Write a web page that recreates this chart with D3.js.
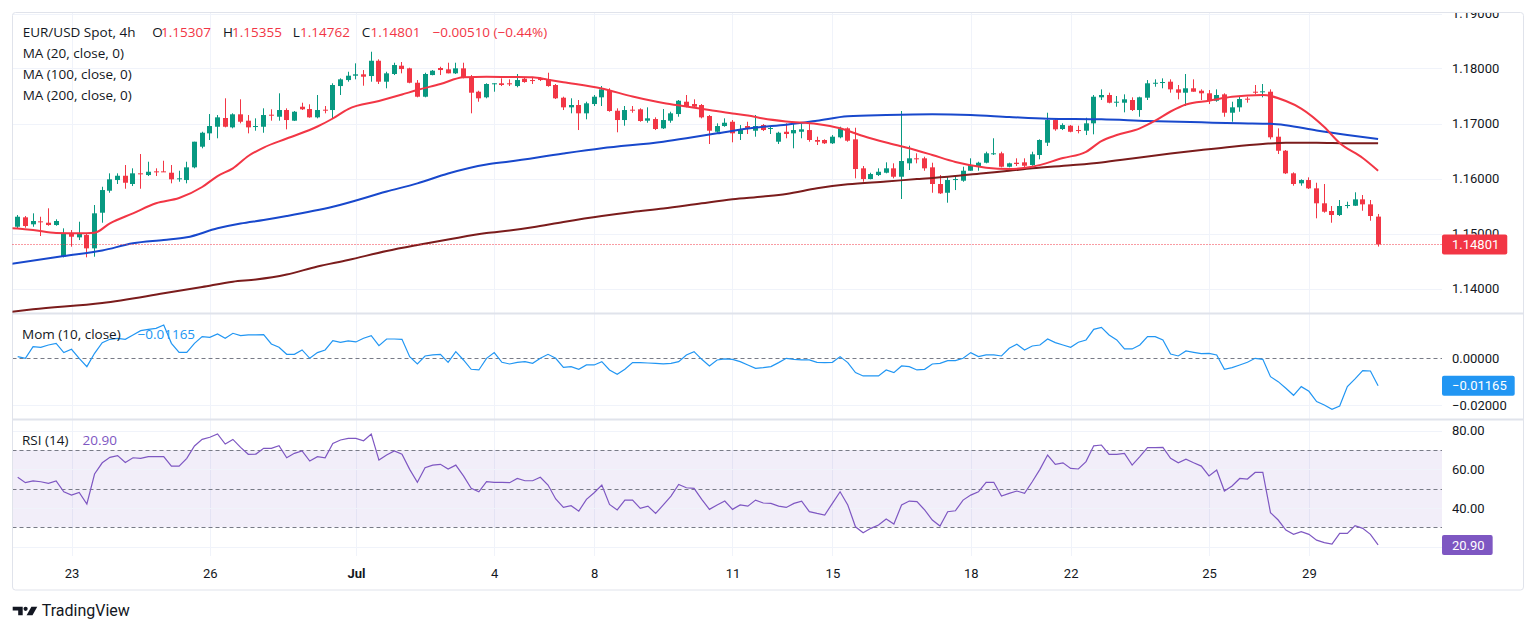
<!DOCTYPE html>
<html>
<head>
<meta charset="utf-8">
<script src="https://cdn.jsdelivr.net/npm/d3@7"></script>
<style>
  body { margin: 0; background: #fff; }
  svg text { font-family: Roboto, sans-serif; }
</style>
</head>
<body>
<script>
// EUR/USD 4h candles (index 0 = first visible bar)
var open = [1.15123,1.15294,1.15167,1.15221,1.15196,1.15154,1.14578,1.15003,1.14930,1.14972,
1.14730,1.15378,1.15778,1.15972,1.16050,1.15900,1.16094,1.16063,1.16130,1.16130,
1.16105,1.15990,1.15972,1.16203,1.16578,1.16821,1.16941,1.17100,1.16930,1.17167,
1.17051,1.16936,1.16941,1.17160,1.17123,1.17245,1.17051,1.17305,1.17263,1.17112,
1.17251,1.17245,1.17681,1.17790,1.17869,1.17894,1.17863,1.18141,1.17760,1.17900,
1.18051,1.18003,1.17741,1.17487,1.17881,1.18009,1.17985,1.17912,1.18003,1.17840,
1.17578,1.17476,1.17718,1.17731,1.17731,1.17681,1.17814,1.17790,1.17827,1.17803,
1.17700,1.17469,1.17294,1.17336,1.17185,1.17354,1.17476,1.17609,1.17232,1.17063,
1.17251,1.17258,1.17051,1.17081,1.16912,1.17051,1.17172,1.17396,1.17354,1.17336,
1.17136,1.16850,1.16954,1.17032,1.16809,1.16954,1.16869,1.16972,1.16905,1.16669,
1.16850,1.16821,1.16850,1.16881,1.16700,1.16700,1.16640,1.16749,1.16912,1.16712,
1.16185,1.15990,1.16063,1.16105,1.16185,1.16032,1.16276,1.16367,1.16367,1.16203,
1.15900,1.15741,1.15972,1.15960,1.16141,1.16227,1.16287,1.16445,1.16458,1.16214,
1.16287,1.16294,1.16245,1.16427,1.16651,1.17063,1.16900,1.16960,1.16881,1.16869,
1.17003,1.17476,1.17518,1.17378,1.17378,1.17427,1.17245,1.17469,1.17731,1.17741,
1.17760,1.17621,1.17560,1.17640,1.17596,1.17549,1.17414,1.17530,1.17196,1.17294,
1.17451,1.17578,1.17572,1.17578,1.16760,1.16505,1.16094,1.15912,1.15972,1.15821,
1.15549,1.15409,1.15336,1.15505,1.15505,1.15621,1.15530,1.15307];
var high = [1.15336,1.15318,1.15367,1.15305,1.15458,1.15258,1.15094,1.15063,1.15214,1.15003,
1.15518,1.15850,1.16094,1.16094,1.16245,1.16185,1.16445,1.16305,1.16185,1.16323,
1.16245,1.16141,1.16305,1.16669,1.16850,1.17172,1.17154,1.17458,1.17185,1.17440,
1.17154,1.17094,1.17276,1.17258,1.17549,1.17276,1.17227,1.17378,1.17349,1.17518,
1.17318,1.17731,1.17821,1.17941,1.18094,1.17972,1.18305,1.18167,1.17941,1.18105,
1.18118,1.18014,1.17790,1.17923,1.17972,1.18032,1.18105,1.18105,1.18105,1.17881,
1.17596,1.17731,1.17731,1.17821,1.17803,1.17900,1.17840,1.17840,1.17840,1.17923,
1.17718,1.17487,1.17458,1.17427,1.17396,1.17518,1.17681,1.17640,1.17276,1.17318,
1.17318,1.17276,1.17294,1.17112,1.17263,1.17214,1.17427,1.17518,1.17440,1.17354,
1.17154,1.17003,1.17094,1.17063,1.16972,1.17032,1.17154,1.16990,1.16954,1.16850,
1.17003,1.17003,1.17003,1.16990,1.16760,1.16712,1.16790,1.16941,1.16930,1.16923,
1.16227,1.16105,1.16185,1.16294,1.16276,1.17227,1.16596,1.16458,1.16396,1.16287,
1.16063,1.16032,1.16032,1.16214,1.16367,1.16305,1.16487,1.16731,1.16487,1.16287,
1.16367,1.16367,1.16487,1.16712,1.17196,1.17094,1.17003,1.16972,1.16960,1.17105,
1.17518,1.17621,1.17560,1.17500,1.17530,1.17476,1.17487,1.17790,1.17803,1.17821,
1.17803,1.17700,1.17900,1.17803,1.17621,1.17609,1.17621,1.17549,1.17396,1.17487,
1.17487,1.17700,1.17718,1.17621,1.16912,1.16518,1.16112,1.15985,1.16021,1.15923,
1.15900,1.15500,1.15609,1.15578,1.15749,1.15700,1.15609,1.15355];
var low = [1.15094,1.15105,1.15123,1.14954,1.15141,1.15141,1.14565,1.14760,1.14881,1.14567,
1.14578,1.15196,1.15741,1.15900,1.15814,1.15863,1.15814,1.16045,1.16045,1.16118,
1.15912,1.15941,1.15912,1.16185,1.16549,1.16700,1.16731,1.16930,1.16912,1.17003,
1.16821,1.16869,1.16832,1.17051,1.17051,1.16894,1.17045,1.17245,1.17105,1.17094,
1.17185,1.17094,1.17518,1.17760,1.17803,1.17687,1.17760,1.17718,1.17640,1.17881,
1.17912,1.17731,1.17476,1.17476,1.17876,1.17881,1.17912,1.17900,1.17821,1.17185,
1.17396,1.17458,1.17578,1.17681,1.17681,1.17658,1.17741,1.17718,1.17772,1.17669,
1.17445,1.17245,1.17185,1.16881,1.17076,1.17318,1.17318,1.17214,1.16840,1.16960,
1.17196,1.17032,1.17014,1.16881,1.16900,1.17014,1.17123,1.17294,1.17294,1.17094,
1.16627,1.16832,1.16941,1.16658,1.16700,1.16809,1.16760,1.16863,1.16809,1.16627,
1.16731,1.16549,1.16731,1.16669,1.16609,1.16627,1.16627,1.16731,1.16669,1.16003,
1.15941,1.15985,1.16045,1.16094,1.16003,1.15627,1.16154,1.16276,1.16141,1.15741,
1.15718,1.15560,1.15790,1.15941,1.16141,1.16141,1.16276,1.16427,1.16203,1.16203,
1.16227,1.16185,1.16232,1.16349,1.16591,1.16869,1.16881,1.16840,1.16821,1.16790,
1.16803,1.17427,1.17367,1.17305,1.17203,1.17227,1.17123,1.17427,1.17669,1.17640,
1.17560,1.17440,1.17318,1.17578,1.17427,1.17354,1.17396,1.17123,1.17032,1.17214,
1.17378,1.17530,1.17476,1.16712,1.16445,1.16081,1.15869,1.15869,1.15809,1.15276,
1.15378,1.15196,1.15318,1.15458,1.15500,1.15414,1.15232,1.14762];
var close = [1.15305,1.15136,1.15227,1.15209,1.15154,1.15227,1.15003,1.14941,1.15003,1.14730,
1.15367,1.15790,1.15985,1.16050,1.15923,1.16094,1.16081,1.16123,1.16112,1.16123,
1.15985,1.16003,1.16203,1.16669,1.16832,1.16954,1.17112,1.16941,1.17167,1.17032,
1.16930,1.16954,1.17154,1.17149,1.17245,1.17063,1.17214,1.17258,1.17112,1.17245,
1.17240,1.17700,1.17803,1.17869,1.17894,1.17851,1.18141,1.17760,1.17912,1.18063,
1.17990,1.17741,1.17487,1.17900,1.17960,1.17972,1.17912,1.18003,1.17840,1.17560,
1.17458,1.17718,1.17731,1.17700,1.17712,1.17790,1.17754,1.17772,1.17790,1.17681,
1.17458,1.17294,1.17336,1.17185,1.17367,1.17487,1.17621,1.17227,1.17063,1.17245,
1.17240,1.17045,1.17094,1.16900,1.17063,1.17185,1.17414,1.17305,1.17305,1.17112,
1.16869,1.16954,1.17014,1.16821,1.16881,1.16912,1.16954,1.16881,1.16918,1.16832,
1.16809,1.16881,1.16894,1.16700,1.16669,1.16640,1.16760,1.16912,1.16687,1.16172,
1.15990,1.16081,1.16123,1.16185,1.16032,1.16318,1.16367,1.16349,1.16185,1.15900,
1.15730,1.15972,1.15990,1.16141,1.16245,1.16287,1.16458,1.16458,1.16214,1.16276,
1.16263,1.16232,1.16440,1.16700,1.17063,1.16894,1.16972,1.16850,1.16863,1.17003,
1.17487,1.17518,1.17378,1.17396,1.17440,1.17245,1.17476,1.17731,1.17741,1.17754,
1.17621,1.17560,1.17640,1.17578,1.17549,1.17427,1.17518,1.17196,1.17294,1.17445,
1.17440,1.17567,1.17585,1.16749,1.16505,1.16094,1.15900,1.15972,1.15821,1.15549,
1.15396,1.15336,1.15500,1.15518,1.15621,1.15530,1.15318,1.14801];

// moving averages, sampled [bar index, value]
var ma20 = [[-1,1.15100],[0,1.15090],[2,1.15063],[5,1.15009],[8,1.15003],[10,1.15014],[12,1.15185],[15,1.15367],[18,1.15549],[21,1.15645],[24,1.15845],[26,1.16045],[28,1.16185],[30,1.16409],[32,1.16563],[35,1.16727],[39,1.16945],[41,1.17091],[43,1.17263],[47,1.17409],[50,1.17527],[52,1.17609],[55,1.17718],[58,1.17840],[61,1.17851],[64,1.17845],[67,1.17840],[69,1.17796],[71,1.17751],[76,1.17636],[80,1.17491],[84,1.17372],[87,1.17309],[90,1.17245],[93,1.17182],[95,1.17145],[97,1.17090],[100,1.17036],[104,1.16990],[107,1.16912],[110,1.16772],[113,1.16654],[116,1.16549],[119,1.16427],[122,1.16300],[126,1.16196],[129,1.16172],[132,1.16214],[136,1.16372],[139,1.16485],[141,1.16681],[143,1.16790],[146,1.16912],[148,1.17051],[150,1.17218],[152,1.17345],[155,1.17414],[158,1.17485],[162,1.17518],[165,1.17409],[167,1.17272],[170,1.16936],[172,1.16645],[175,1.16372],[177,1.16141]];
var ma100 = [[-1,1.14445],[6,1.14591],[11,1.14691],[15,1.14821],[19,1.14881],[22,1.14930],[26,1.15094],[29,1.15181],[32,1.15245],[35,1.15318],[41,1.15487],[48,1.15763],[52,1.15912],[56,1.16091],[61,1.16254],[64,1.16309],[71,1.16454],[76,1.16549],[84,1.16669],[87,1.16731],[91,1.16821],[96,1.16927],[100,1.16978],[104,1.17051],[108,1.17132],[113,1.17154],[119,1.17167],[124,1.17154],[129,1.17118],[134,1.17087],[141,1.17076],[147,1.17045],[154,1.17021],[159,1.17003],[163,1.16994],[165,1.16969],[169,1.16872],[173,1.16790],[177,1.16718]];
var ma200 = [[-1,1.13572],[2,1.13621],[11,1.13736],[19,1.13912],[24,1.14027],[28,1.14123],[31,1.14163],[35,1.14254],[39,1.14400],[43,1.14518],[48,1.14681],[52,1.14790],[56,1.14891],[61,1.15009],[64,1.15054],[67,1.15112],[71,1.15209],[76,1.15318],[80,1.15391],[84,1.15454],[89,1.15549],[93,1.15621],[97,1.15672],[100,1.15718],[104,1.15821],[108,1.15894],[113,1.15945],[117,1.15990],[121,1.16031],[126,1.16100],[129,1.16141],[132,1.16185],[137,1.16240],[141,1.16291],[145,1.16363],[150,1.16454],[154,1.16518],[158,1.16578],[162,1.16627],[165,1.16651],[169,1.16651],[173,1.16641],[177,1.16640]];

var mom = [0.00071,0,0.00496,0.00468,0.00567,0.00638,0.00241,0.00383,0,-0.00355,
0.00213,0.00666,0.00808,0.00851,0.00808,0.00993,0.01177,0.01234,0.01276,0.01418,
0.00638,0.00255,0.00255,0.00638,0.00922,0.00893,0.01035,0.00851,0.01064,0.00964,
0.00993,0.00993,0.01007,0.00610,0.00468,0.00170,0.00170,0.00355,0,0.00241,
0.00355,0.00752,0.00681,0.00737,0.00695,0.00851,0.00964,0.00539,0.00822,0.00822,
0.00808,0.00071,-0.00241,0.00099,0.00142,0.00170,-0.00170,0.00284,-0.00071,-0.00468,
-0.00496,0,0.00241,-0.00170,-0.00241,-0.00170,-0.00142,-0.00213,0,0.00170,
0,-0.00383,-0.00355,-0.00468,-0.00284,-0.00284,-0.00142,-0.00496,-0.00681,-0.00468,
-0.00184,-0.00184,-0.00199,-0.00213,-0.00241,-0.00213,-0.00142,0.00142,0.00284,-0.00043,
-0.00326,-0.00071,-0.00028,-0.00043,-0.00142,-0.00284,-0.00425,-0.00397,-0.00355,-0.00184,
0,-0.00043,-0.00071,-0.00071,-0.00170,-0.00184,-0.00170,0.00071,-0.00184,-0.00610,
-0.00752,-0.00752,-0.00752,-0.00496,-0.00610,-0.00326,-0.00355,-0.00496,-0.00468,-0.00241,
-0.00213,-0.00099,-0.00099,0,0.00241,0.00071,0.00142,0.00142,0.00099,0.00425,
0.00596,0.00355,0.00525,0.00567,0.00822,0.00666,0.00567,0.00468,0.00681,0.00780,
0.01234,0.01319,0.00993,0.00780,0.00397,0.00397,0.00567,0.00922,0.00922,0.00780,
0.00184,0.00099,0.00312,0.00255,0.00199,0.00213,0.00142,-0.00468,-0.00397,-0.00284,
-0.00170,0,-0.00043,-0.00780,-0.00993,-0.01276,-0.01574,-0.01205,-0.01404,-0.01843,
-0.01985,-0.02170,-0.02028,-0.01205,-0.00879,-0.00525,-0.00539,-0.01165];

var rsi = [55.9,53.1,54.0,53.6,52.8,54.0,48.4,46.7,48.1,42.1,
57.6,63.4,66.2,67.1,63.6,66.0,65.7,66.6,66.6,66.6,
61.7,61.7,65.7,72.1,75.5,76.6,78.3,73.1,75.5,71.4,
67.8,67.9,70.9,70.9,72.2,66.0,68.3,69.5,64.3,66.6,
66.0,73.4,75.2,76.0,76.0,74.8,78.3,64.8,67.4,69.5,
67.8,60.0,53.3,60.9,62.2,62.6,60.2,62.2,56.6,50.2,
48.4,53.6,53.3,53.3,53.1,55.3,54.1,54.1,55.9,51.9,
44.7,40.3,41.2,38.4,44.5,47.9,51.9,41.9,39.0,44.1,
44.1,39.8,41.0,37.2,41.6,46.2,52.2,50.5,50.2,44.5,
39.3,41.6,43.6,39.3,41.6,41.0,44.1,42.6,42.4,41.0,
40.3,42.4,43.6,38.1,37.2,36.4,42.4,48.4,41.6,30.3,
27.2,29.5,31.2,34.3,31.7,41.6,43.6,43.3,39.0,33.8,
30.7,38.1,38.6,44.1,46.7,48.4,53.3,53.3,46.2,47.6,
48.8,47.6,53.6,60.0,67.4,62.6,63.4,60.5,60.2,64.0,
72.2,72.6,67.8,67.8,68.3,62.2,66.6,71.2,71.2,71.4,
65.7,63.4,65.3,63.4,61.7,56.6,59.7,48.8,51.4,55.3,
55.0,58.4,58.4,37.6,33.8,28.6,26.4,27.8,26.4,23.4,
22.1,21.4,26.9,26.9,30.9,29.5,26.4,20.9];

// time axis
var dayTicks = [7, 25, 44, 62, 75, 93, 106, 124, 137, 155, 168];
var dayLabels = ['23', '26', 'Jul', '4', '8', '11', '15', '18', '22', '25', '29'];
var priceTicks = [1.14, 1.15, 1.16, 1.17, 1.18, 1.19];
var momTicks = [0, -0.02];
var rsiTicks = [80, 60, 40, 20];
var rsiLevels = [70, 50, 30];

var width = 1536, height = 634;
var left = 12.5, right = 1442, frameRight = 1523.5;
var mainTop = 13, mainBottom = 313, momTop = 314.5, momBottom = 419, rsiTop = 420.5, rsiBottom = 556;
var up = '#089981', down = '#f23645', ink = '#131722', grid = '#f0f3fa';

var svg = d3.select('body').append('svg').attr('width', width).attr('height', height);

var x = d3.scaleLinear().domain([0, 177]).range([17.7, 1378.1]);
var y = d3.scaleLinear().domain([1.14, 1.19]).range([288.5, 13.5]);
var yMom = d3.scaleLinear().domain([-0.02, 0]).range([405.3, 358.3]);
var yRsi = d3.scaleLinear().domain([20, 80]).range([546.7, 430.7]);

var defs = svg.append('defs');
var addClip = function(id, x0, x1, y0, y1){
  defs.append('clipPath').attr('id', id).append('rect')
    .attr('x', x0).attr('y', y0).attr('width', x1 - x0).attr('height', y1 - y0);
};
addClip('cMain', left, right, mainTop, mainBottom);
addClip('cMom', left, right, momTop, momBottom);
addClip('cRsi', left, right, rsiTop, rsiBottom);
addClip('cMainAxis', right, frameRight, mainTop, mainBottom);

// grid
svg.selectAll('.vgrid').data(dayTicks).enter().append('line')
  .attr('x1', function(d){ return Math.round(x(d)) + 0.5; })
  .attr('x2', function(d){ return Math.round(x(d)) + 0.5; })
  .attr('y1', mainTop).attr('y2', rsiBottom)
  .attr('stroke', grid);

var hline = function(g, yy, color, dash){
  g.append('line').attr('x1', left).attr('x2', right)
    .attr('y1', Math.round(yy) + 0.5).attr('y2', Math.round(yy) + 0.5)
    .attr('stroke', color).attr('stroke-dasharray', dash || null);
};
priceTicks.forEach(function(p){ hline(svg, y(p), grid); });
hline(svg, yMom(-0.02), grid);

// rsi band + levels
svg.append('rect').attr('x', left).attr('width', right - left)
  .attr('y', yRsi(70)).attr('height', yRsi(30) - yRsi(70))
  .attr('fill', 'rgba(126,87,194,0.1)');
rsiTicks.forEach(function(r){ hline(svg, yRsi(r), grid); });
rsiLevels.forEach(function(r){ hline(svg, yRsi(r), '#787b86', '4,3'); });
hline(svg, yMom(0), '#787b86', '4,3');

// frame and pane separators
svg.append('rect').attr('x', left).attr('y', 12.5).attr('width', frameRight - left).attr('height', 577.5)
  .attr('rx', 3).attr('fill', 'none').attr('stroke', '#e0e3eb');
[mainBottom + 0.5, momBottom + 0.5].forEach(function(yy){
  svg.append('line').attr('x1', left).attr('x2', frameRight).attr('y1', yy).attr('y2', yy)
    .attr('stroke', '#e0e3eb').attr('stroke-width', 2);
});

// candles
var bars = open.map(function(o, i){
  return {i: i, o: o, h: high[i], l: low[i], c: close[i]};
});
var main = svg.append('g').attr('clip-path', 'url(#cMain)');
var candle = main.selectAll('.candle').data(bars).enter().append('g').attr('class', 'candle');
candle.append('line')
  .attr('x1', function(d){ return Math.round(x(d.i) - 2.5) + 2.5; })
  .attr('x2', function(d){ return Math.round(x(d.i) - 2.5) + 2.5; })
  .attr('y1', function(d){ return y(d.h); })
  .attr('y2', function(d){ return y(d.l); })
  .attr('stroke', function(d){ return d.c >= d.o ? up : down; });
candle.append('rect')
  .attr('x', function(d){ return Math.round(x(d.i) - 2.5); })
  .attr('width', 5)
  .attr('y', function(d){ return y(Math.max(d.o, d.c)); })
  .attr('height', function(d){ return Math.max(1, Math.abs(y(d.o) - y(d.c))); })
  .attr('fill', function(d){ return d.c >= d.o ? up : down; });

// moving averages
var maLine = d3.line()
  .x(function(d){ return x(d[0]); })
  .y(function(d){ return y(d[1]); })
  .curve(d3.curveMonotoneX);
[[ma200, '#7b1c1c'], [ma100, '#1848cc'], [ma20, '#f23645']].forEach(function(m){
  main.append('path').attr('d', maLine(m[0])).attr('fill', 'none')
    .attr('stroke', m[1]).attr('stroke-width', 2);
});

// last price line
var last = close[close.length - 1];
hline(svg, y(last), '#f23645', '1,2');

// momentum
svg.append('g').attr('clip-path', 'url(#cMom)').append('path')
  .attr('d', d3.line().x(function(d, i){ return x(i); }).y(function(d){ return yMom(d); })(mom))
  .attr('fill', 'none').attr('stroke', '#2196f3').attr('stroke-width', 1.2);

// rsi
svg.append('g').attr('clip-path', 'url(#cRsi)').append('path')
  .attr('d', d3.line().x(function(d, i){ return x(i); }).y(function(d){ return yRsi(d); })(rsi))
  .attr('fill', 'none').attr('stroke', '#7e57c2').attr('stroke-width', 1.2);

// right axes
var styleAxis = function(g){
  g.select('.domain').remove();
  g.selectAll('text').attr('font-size', 13).attr('fill', ink).attr('font-family', 'Roboto, sans-serif');
};
svg.append('g').attr('clip-path', 'url(#cMainAxis)').append('g')
  .attr('transform', 'translate(' + right + ',0)')
  .call(d3.axisRight(y).tickValues(priceTicks).tickFormat(d3.format('.5f')).tickSize(0).tickPadding(10))
  .call(styleAxis);
svg.append('g').attr('transform', 'translate(' + right + ',0)')
  .call(d3.axisRight(yMom).tickValues(momTicks).tickFormat(d3.format('.5f')).tickSize(0).tickPadding(10))
  .call(styleAxis);
svg.append('g').attr('transform', 'translate(' + right + ',0)')
  .call(d3.axisRight(yRsi).tickValues(rsiTicks).tickFormat(d3.format('.2f')).tickSize(0).tickPadding(10))
  .call(styleAxis);

// value tags on the price scale
var tag = function(yy, label, color){
  var g = svg.append('g');
  var r = g.append('rect').attr('x', right).attr('y', yy - 10).attr('height', 20).attr('rx', 2).attr('fill', color);
  var t = g.append('text').attr('x', right + 10).attr('y', yy).attr('dy', '0.35em')
    .attr('font-size', 13).attr('fill', '#fff').text(label);
  r.attr('width', t.node().getComputedTextLength() + 18);
};
tag(y(last), d3.format('.5f')(last), '#f23645');
tag(yMom(mom[mom.length - 1]), d3.format('.5f')(mom[mom.length - 1]), '#2196f3');
tag(yRsi(rsi[rsi.length - 1]), d3.format('.2f')(rsi[rsi.length - 1]), '#7e57c2');

// time axis
svg.append('g').attr('transform', 'translate(0,' + 566 + ')')
  .call(d3.axisBottom(x).tickValues(dayTicks).tickFormat(function(d, i){ return dayLabels[i]; }).tickSize(0).tickPadding(0))
  .call(styleAxis)
  .selectAll('text').attr('dy', '0.35em').attr('y', 7)
  .attr('font-weight', function(d, i){ return dayLabels[i] === 'Jul' ? 700 : 400; });

// legends
var legend = function(xx, yy, label, color){
  svg.append('text').attr('x', xx).attr('y', yy).attr('dy', '0.35em')
    .style('font-family', '"Open Sans", Roboto, sans-serif')
    .attr('font-size', 13.5).attr('fill', color || ink).text(label);
};
legend(22.7, 32.7, 'EUR/USD Spot, 4h');
legend(152.3, 32.7, 'O'); legend(161, 32.7, d3.format('.5f')(open[177]), down);
legend(223, 32.7, 'H'); legend(232, 32.7, d3.format('.5f')(high[177]), down);
legend(292.8, 32.7, 'L'); legend(300, 32.7, d3.format('.5f')(low[177]), down);
legend(361.7, 32.7, 'C'); legend(370.5, 32.7, d3.format('.5f')(close[177]), down);
legend(432.5, 32.7, '\u22120.00510 (\u22120.44%)', down);
legend(22.7, 53.3, 'MA (20, close, 0)');
legend(22.7, 74, 'MA (100, close, 0)');
legend(22.7, 95, 'MA (200, close, 0)');
legend(22, 334, 'Mom (10, close)');
legend(137.5, 334, d3.format('.5f')(mom[177]), '#2196f3');
legend(22, 440, 'RSI (14)');
legend(82.5, 440, d3.format('.2f')(rsi[177]), '#7e57c2');

// TradingView mark
var logo = svg.append('g').attr('fill', ink);
logo.append('path').attr('d', 'M12.7,606.7 H22.7 V615.2 H18.2 V610.4 H12.7 Z');
logo.append('circle').attr('cx', 25.6).attr('cy', 608.8).attr('r', 2.1);
logo.append('path').attr('d', 'M26.6,615.2 L31.4,606.7 H37.3 L32.5,615.2 Z');
svg.append('text').attr('x', 41.7).attr('y', 615.5).attr('font-size', 16).attr('fill', ink).text('TradingView');
</script>
</body>
</html>
